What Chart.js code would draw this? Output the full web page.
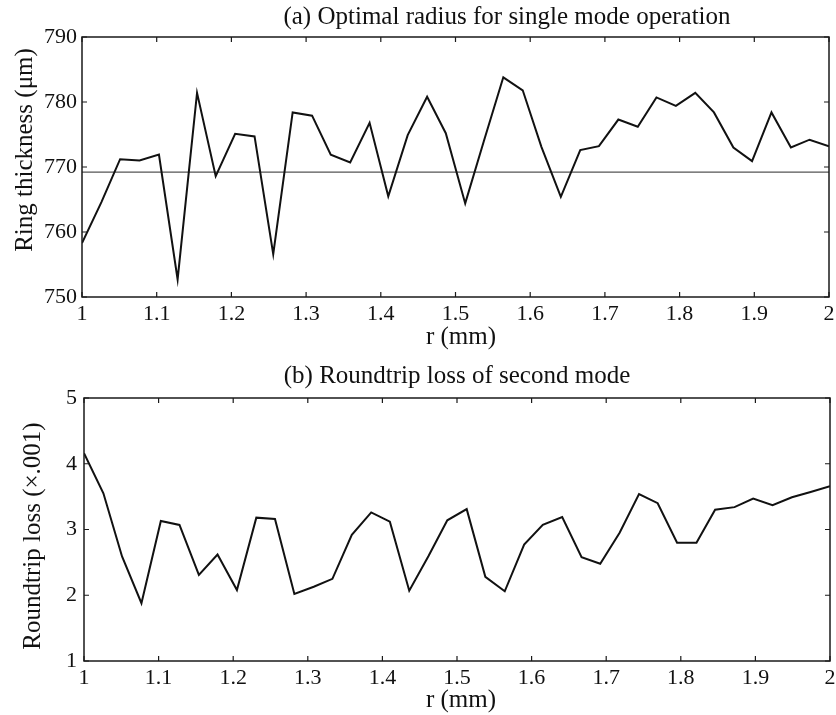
<!DOCTYPE html>
<html>
<head>
<meta charset="utf-8">
<title>Ring thickness and roundtrip loss</title>
<script src="https://cdn.jsdelivr.net/npm/chart.js@4.4.1/dist/chart.umd.min.js"></script>
<style>
  body { margin: 0; background: #fff; }
  #wrap { position: relative; width: 836px; height: 715px; }
  canvas { position: absolute; left: 0; }
</style>
</head>
<body>
<div id="wrap">
  <canvas id="thicknessChart" width="836" height="358" style="top:0"></canvas>
  <canvas id="lossChart" width="836" height="357" style="top:358px"></canvas>
</div>
<script>
// ring radius r (mm), 40 samples
const rValues = [1.000, 1.026, 1.051, 1.077, 1.103, 1.128, 1.154, 1.179, 1.205, 1.231,
                 1.256, 1.282, 1.308, 1.333, 1.359, 1.385, 1.410, 1.436, 1.462, 1.487,
                 1.513, 1.538, 1.564, 1.590, 1.615, 1.641, 1.667, 1.692, 1.718, 1.744,
                 1.769, 1.795, 1.821, 1.846, 1.872, 1.897, 1.923, 1.949, 1.974, 2.000];

// (a) optimal ring thickness (um)
const thickness = [758.3, 764.6, 771.2, 771.0, 771.9, 752.7, 781.4, 768.6, 775.1, 774.7,
                   756.6, 778.4, 777.9, 771.9, 770.7, 776.8, 765.5, 774.9, 780.8, 775.2,
                   764.4, 774.0, 783.8, 781.8, 773.1, 765.4, 772.6, 773.2, 777.3, 776.2,
                   780.7, 779.4, 781.4, 778.4, 773.0, 770.9, 778.4, 773.0, 774.2, 773.2];

// reference level drawn across panel (a)
const refR = [1, 2];
const refThickness = [769.2, 769.2];

// (b) roundtrip loss of the second mode (x .001)
const loss = [4.16, 3.55, 2.59, 1.88, 3.13, 3.07, 2.31, 2.62, 2.08, 3.18,
              3.16, 2.02, 2.13, 2.25, 2.92, 3.26, 3.12, 2.07, 2.60, 3.14,
              3.31, 2.28, 2.06, 2.77, 3.07, 3.19, 2.58, 2.48, 2.95, 3.54,
              3.40, 2.80, 2.80, 3.30, 3.34, 3.47, 3.37, 3.49, 3.57, 3.66];

const rTicks = [1, 2, 0.1];          // min, max, step
const thicknessTicks = [750, 790, 10];
const lossTicks = [1, 5, 1];

const SERIF = '"Liberation Serif", "Times New Roman", serif';
const TICK_LEN = 5;

function toPoints(xs, ys) {
  return xs.map((x, i) => ({ x: x, y: ys[i] }));
}

// matlab style box with inward ticks, plus the titles and axis labels
const paperFrame = {
  id: 'paperFrame',
  afterDraw(chart, args, opts) {
    const { ctx, chartArea: a, scales } = chart;
    ctx.save();
    ctx.strokeStyle = '#1a1a1a';
    ctx.lineWidth = 1.5;
    ctx.strokeRect(a.left, a.top, a.right - a.left, a.bottom - a.top);

    ctx.lineWidth = 1.2;
    ctx.beginPath();
    scales.x.ticks.forEach(t => {
      const px = scales.x.getPixelForValue(t.value);
      ctx.moveTo(px, a.bottom); ctx.lineTo(px, a.bottom - TICK_LEN);
      ctx.moveTo(px, a.top); ctx.lineTo(px, a.top + TICK_LEN);
    });
    scales.y.ticks.forEach(t => {
      const py = scales.y.getPixelForValue(t.value);
      ctx.moveTo(a.left, py); ctx.lineTo(a.left + TICK_LEN, py);
      ctx.moveTo(a.right, py); ctx.lineTo(a.right - TICK_LEN, py);
    });
    ctx.stroke();

    ctx.fillStyle = '#111';
    ctx.textAlign = 'center';
    ctx.textBaseline = 'middle';
    (opts.labels || []).forEach(l => {
      ctx.save();
      ctx.font = l.size + 'px ' + SERIF;
      ctx.translate(l.x, l.y);
      if (l.rotate) ctx.rotate(-Math.PI / 2);
      ctx.fillText(l.text, 0, 0);
      ctx.restore();
    });
    ctx.restore();
  }
};

function makePanel(canvasId, datasets, yTicks, area, labels) {
  const ctx = document.getElementById(canvasId).getContext('2d');
  const h = ctx.canvas.height;
  return new Chart(ctx, {
    type: 'line',
    data: { datasets: datasets },
    plugins: [paperFrame],
    options: {
      responsive: false,
      animation: false,
      layout: { padding: { top: area.top, right: 836 - area.right, left: 0, bottom: 0 } },
      plugins: {
        legend: { display: false },
        tooltip: { enabled: false },
        paperFrame: { labels: labels }
      },
      scales: {
        x: {
          type: 'linear',
          min: rTicks[0],
          max: rTicks[1],
          grid: { display: false, drawTicks: false },
          border: { display: false },
          ticks: {
            stepSize: rTicks[2],
            padding: 4,
            color: '#111',
            font: { family: SERIF, size: 22 },
            maxRotation: 0,
            callback: (v) => String(Number(v.toFixed(1)))
          },
          afterFit: (scale) => {
            scale.height = h - area.bottom;
            scale.paddingLeft = 0;
            scale.paddingRight = 0;
          }
        },
        y: {
          min: yTicks[0],
          max: yTicks[1],
          grid: { display: false, drawTicks: false },
          border: { display: false },
          ticks: {
            stepSize: yTicks[2],
            padding: area.left - 77,
            color: '#111',
            font: { family: SERIF, size: 22 }
          },
          afterFit: (scale) => {
            scale.width = area.left;
            scale.paddingTop = 0;
            scale.paddingBottom = 0;
          }
        }
      }
    }
  });
}

makePanel('thicknessChart', [
  {
    data: toPoints(rValues, thickness),
    borderColor: '#111',
    borderWidth: 2,
    pointRadius: 0,
    tension: 0
  },
  {
    data: toPoints(refR, refThickness),
    borderColor: '#555',
    borderWidth: 1.2,
    pointRadius: 0
  }
], thicknessTicks, { left: 82, right: 829, top: 37, bottom: 297 }, [
  { text: '(a) Optimal radius for single mode operation', x: 507, y: 17, size: 25 },
  { text: 'r (mm)', x: 461, y: 337, size: 25 },
  { text: 'Ring thickness (\u03bcm)', x: 25, y: 150, size: 25, rotate: true }
]);

makePanel('lossChart', [
  {
    data: toPoints(rValues, loss),
    borderColor: '#111',
    borderWidth: 2,
    pointRadius: 0,
    tension: 0
  }
], lossTicks, { left: 84, right: 830, top: 40, bottom: 303 }, [
  { text: '(b) Roundtrip loss of second mode', x: 457, y: 18, size: 25 },
  { text: 'r (mm)', x: 461, y: 342, size: 25 },
  { text: 'Roundtrip loss (\u00d7.001)', x: 33, y: 178, size: 25, rotate: true }
]);
</script>
</body>
</html>
